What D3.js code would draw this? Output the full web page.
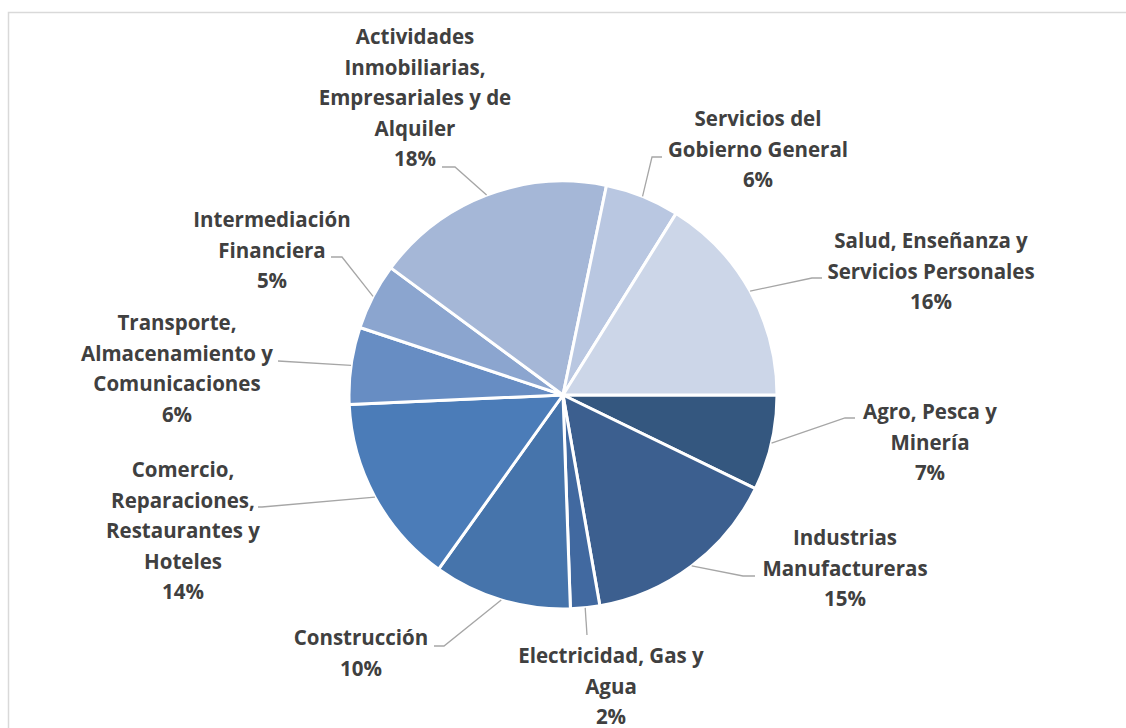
<!DOCTYPE html>
<html>
<head>
<meta charset="utf-8">
<script src="https://cdn.jsdelivr.net/npm/d3@7"></script>
<style>
  body { margin: 0; background: #fff; }
  .lbl { font-family: "Open Sans", Lato, sans-serif; font-weight: 700; font-size: 20.5px; fill: #404040; }
</style>
</head>
<body>
<div id="chart"></div>
<script>
const svgWidth = 1126,
      svgHeight = 728,
      cx = 563, cy = 395,
      radius = 214;

// sectors, clockwise from 3 o'clock
const sectors = [
  ["Agro, Pesca y", "Minería"],
  ["Industrias", "Manufactureras"],
  ["Electricidad, Gas y", "Agua"],
  ["Construcción"],
  ["Comercio,", "Reparaciones,", "Restaurantes y", "Hoteles"],
  ["Transporte,", "Almacenamiento y", "Comunicaciones"],
  ["Intermediación", "Financiera"],
  ["Actividades", "Inmobiliarias,", "Empresariales y de", "Alquiler"],
  ["Servicios del", "Gobierno General"],
  ["Salud, Enseñanza y", "Servicios Personales"]
];
const shares = [7.2, 15.0, 2.2, 10.4, 14.4, 5.8, 5.0, 18.1, 5.6, 16.1];
const colors = ["#34577f", "#3c5f8f", "#4169a0", "#4674ab", "#4b7cb8",
                "#678dc3", "#8ba5cf", "#a5b7d7", "#b9c7e1", "#ccd6e8"];

// label placement: text centre x, first baseline, leader elbow, leader end
const labelLayout = [
  {x: 930, y: 419, elbow: [845, 418], end: [855, 418]},
  {x: 845, y: 545, elbow: [743, 576], end: [755, 576]},
  {x: 611, y: 663, elbow: [587, 635], end: [587, 635]},
  {x: 361, y: 645, elbow: [444, 646], end: [434, 646]},
  {x: 183, y: 477, elbow: [262, 507], end: [258, 507]},
  {x: 177, y: 330, elbow: [278, 361], end: [278, 361]},
  {x: 272, y: 227, elbow: [342, 257], end: [331, 257]},
  {x: 415, y: 44,  elbow: [455, 167], end: [442, 167]},
  {x: 758, y: 126, elbow: [652, 157], end: [662, 157]},
  {x: 931, y: 248, elbow: [812, 278], end: [822, 278]}
];
const lineStep = 30.5;

const total = d3.sum(shares);
const pct = d3.format(".0%");

let svg = d3.select("#chart")
  .append("svg")
  .attr("width", svgWidth)
  .attr("height", svgHeight);

// chart frame (runs off the right and bottom edges)
svg.append("rect")
  .attr("x", 8.5)
  .attr("y", 12.5)
  .attr("width", 1140)
  .attr("height", 760)
  .attr("fill", "none")
  .attr("stroke", "#d9d9d9")
  .attr("stroke-width", 1.5);

let pie = d3.pie()
  .sort(null)
  .value(d => d)
  .startAngle(Math.PI / 2)
  .endAngle(Math.PI / 2 + 2 * Math.PI);

let arc = d3.arc().innerRadius(0).outerRadius(radius);
let edge = d3.arc().innerRadius(radius).outerRadius(radius);

let arcs = pie(shares);

let g = svg.append("g")
  .attr("transform", "translate(" + cx + "," + cy + ")");

g.selectAll("path.slice")
  .data(arcs)
  .enter()
  .append("path")
  .attr("class", "slice")
  .attr("d", arc)
  .attr("fill", (d, i) => colors[i])
  .attr("stroke", "#fff")
  .attr("stroke-width", 3)
  .attr("stroke-linejoin", "round");

// leader lines
svg.selectAll("polyline.leader")
  .data(arcs)
  .enter()
  .append("polyline")
  .attr("class", "leader")
  .attr("points", function(d, i) {
    let c = edge.centroid(d);
    let p0 = [cx + c[0], cy + c[1]];
    let L = labelLayout[i];
    return [p0, L.elbow, L.end].map(p => p.join(",")).join(" ");
  })
  .attr("fill", "none")
  .attr("stroke", "#a6a6a6")
  .attr("stroke-width", 1.3);

// labels
let labels = svg.selectAll("text.lbl")
  .data(arcs)
  .enter()
  .append("text")
  .attr("class", "lbl")
  .attr("text-anchor", "middle");

labels.each(function(d, i) {
  let L = labelLayout[i];
  let lines = sectors[i].concat([pct(d.data / total)]);
  d3.select(this).selectAll("tspan")
    .data(lines)
    .enter()
    .append("tspan")
    .attr("x", L.x)
    .attr("y", (t, j) => L.y + j * lineStep)
    .text(t => t);
});
</script>
</body>
</html>
